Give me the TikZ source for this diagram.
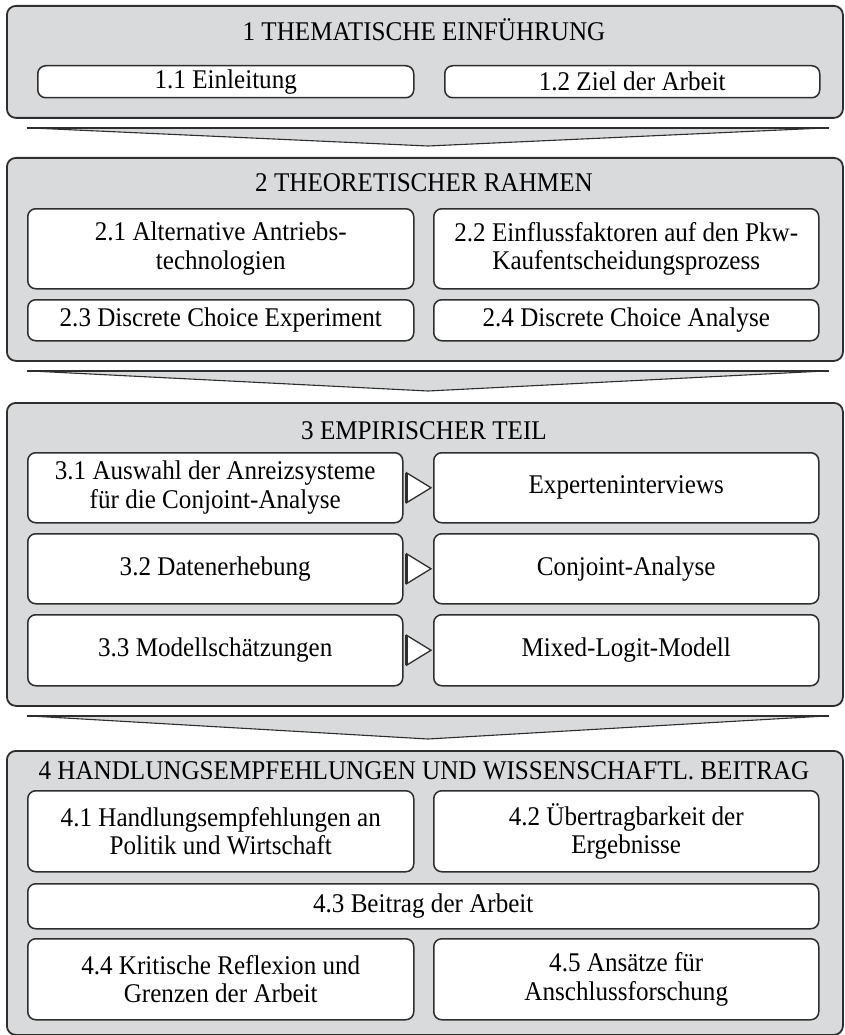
\documentclass[tikz,border=0pt]{standalone}
\usepackage{fontspec}
\setmainfont{Liberation Serif}[FakeStretch=0.93]
\usetikzlibrary{calc}
\definecolor{panelgray}{HTML}{D9DADC}
\definecolor{edgegray}{HTML}{2E2E2E}
\tikzset{
  panel/.style={draw=edgegray, line width=1.8pt, fill=panelgray, rounded corners=9pt,
    anchor=north west, inner sep=0pt},
  item/.style={draw=edgegray, line width=1.5pt, fill=white, rounded corners=8pt,
    anchor=north west, inner sep=0pt, align=center, font=\fontsize{27}{28.5}\selectfont},
  heading/.style={font=\fontsize{27}{28.5}\selectfont, inner sep=0pt},
  chevron/.style={draw=edgegray, line width=1.1pt, fill=panelgray, line join=miter},
  chevrontop/.style={draw=edgegray, line width=2pt},
  pointer/.style={draw=edgegray, line width=1.3pt, fill=white, line join=miter},
  pointerbase/.style={draw=edgegray, line width=2.4pt},
}
\begin{document}
\begin{tikzpicture}[x=1pt, y=-1pt]
\useasboundingbox (0,0) rectangle (844,1035);

% chapter panels
\node[panel, minimum width=836pt, minimum height=112pt] (p1) at (6,5) {};
\node[panel, minimum width=836pt, minimum height=203pt] (p2) at (6,157) {};
\node[panel, minimum width=836pt, minimum height=303pt] (p3) at (6,402) {};
\node[panel, minimum width=836pt, minimum height=284pt] (p4) at (6,750) {};

% chapter headings
\node[heading] (t1) at (424,30) {1 THEMATISCHE EINFÜHRUNG};
\node[heading] (t2) at (424,183) {2 THEORETISCHER RAHMEN};
\node[heading] (t3) at (424,431) {3 EMPIRISCHER TEIL};
\node[heading] (t4) at (424,771) {4 HANDLUNGSEMPFEHLUNGEN UND WISSENSCHAFTL. BEITRAG};

% chapter 1
\node[item, minimum width=376pt, minimum height=32pt] (s11) at (37,65) {1.1 Einleitung};
\node[item, minimum width=375pt, minimum height=32pt] (s12) at (444,65) {1.2 Ziel der Arbeit};

% chapter 2
\node[item, minimum width=386pt, minimum height=80pt] (s21) at (27,208) {2.1 Alternative Antriebs-\\technologien};
\node[item, minimum width=385pt, minimum height=80pt] (s22) at (433,208) {2.2 Einflussfaktoren auf den Pkw-\\Kaufentscheidungsprozess};
\node[item, minimum width=386pt, minimum height=41pt] (s23) at (27,299) {2.3 Discrete Choice Experiment};
\node[item, minimum width=385pt, minimum height=41pt] (s24) at (433,299) {2.4 Discrete Choice Analyse};

% chapter 3
\node[item, minimum width=375pt, minimum height=70pt] (s31) at (27,452) {3.1 Auswahl der Anreizsysteme\\für die Conjoint-Analyse};
\node[item, minimum width=385pt, minimum height=70pt] (e31) at (433,452) {Experteninterviews};
\node[item, minimum width=375pt, minimum height=70pt] (s32) at (27,533) {3.2 Datenerhebung};
\node[item, minimum width=385pt, minimum height=70pt] (e32) at (433,533) {Conjoint-Analyse};
\node[item, minimum width=375pt, minimum height=71pt] (s33) at (27,614) {3.3 Modellschätzungen};
\node[item, minimum width=385pt, minimum height=71pt] (e33) at (433,614) {Mixed-Logit-Modell};

% chapter 4
\node[item, minimum width=386pt, minimum height=81pt] (s41) at (27,790) {4.1 Handlungsempfehlungen an\\Politik und Wirtschaft};
\node[item, minimum width=385pt, minimum height=81pt] (s42) at (433,790) {4.2 Übertragbarkeit der\\Ergebnisse};
\node[item, minimum width=791pt, minimum height=45pt] (s43) at (27,883) {4.3 Beitrag der Arbeit};
\node[item, minimum width=386pt, minimum height=81pt] (s44) at (27,938) {4.4 Kritische Reflexion und\\Grenzen der Arbeit};
\node[item, minimum width=385pt, minimum height=81pt] (s45) at (433,938) {4.5 Ansätze für\\Anschlussforschung};

% flat chevrons leading from one chapter to the next
\foreach \a/\b in {p1/p2, p2/p3, p3/p4} {
  \draw[chevron] ($(\a.south west)+(21,9)$) -- ($(\a.south west)+(823,9)$)
    -- ($(\b.north west)+(422,-11)$) -- cycle;
  \draw[chevrontop] ($(\a.south west)+(21,9)$) -- ($(\a.south west)+(823,9)$);
}

% pointers from each step to its method
\foreach \l/\r in {s31/e31, s32/e32, s33/e33} {
  \draw[pointer] ($(\l.east)+(3,-15)$) -- ($(\r.west)+(-2,0)$) -- ($(\l.east)+(3,15)$) -- cycle;
  \draw[pointerbase] ($(\l.east)+(3,-15)$) -- ($(\l.east)+(3,15)$);
}
\end{tikzpicture}
\end{document}
